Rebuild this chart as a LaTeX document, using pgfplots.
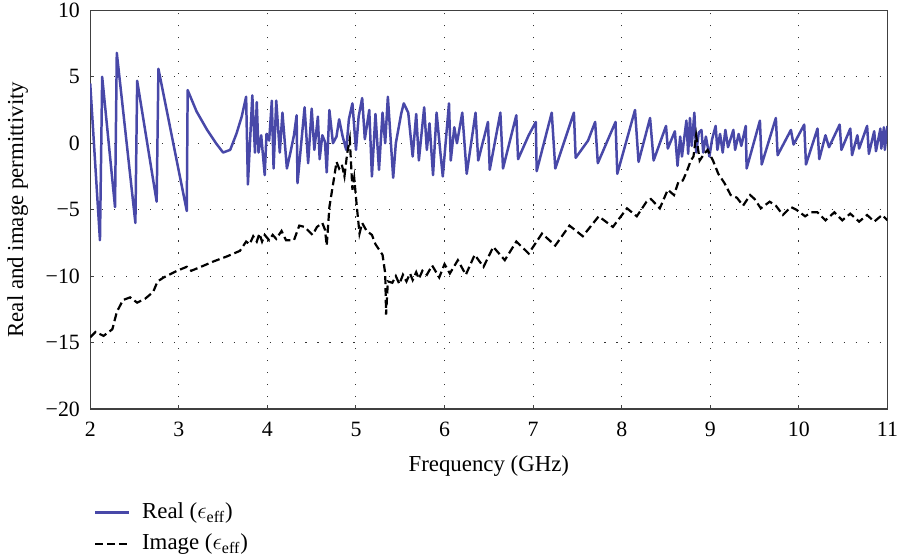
\documentclass[border=0pt]{standalone}
\usepackage{fontspec}
\setmainfont{Liberation Serif}
\usepackage{amsmath}
\usepackage{pgfplots}
\pgfplotsset{compat=1.18}
\definecolor{realblue}{HTML}{4848A8}

\begin{document}
\fontsize{11}{13}\selectfont
\begin{tikzpicture}
\begin{axis}[
  scale only axis,
  width=400bp, height=200bp,
  xmin=2, xmax=11, ymin=-20, ymax=10,
  xtick={2,3,...,11},
  ytick={-20,-15,-10,-5,0,5,10},
  yticklabels={−20,−15,−10,−5,0,5,10},
  xticklabels={2,3,4,5,6,7,8,9,10,11},
  tick label style={font=\fontsize{11}{13}\selectfont},
  label style={font=\fontsize{11.5}{13}\selectfont},
  yticklabel style={inner xsep=0pt, inner ysep=1.5bp, xshift=-5bp},
  xticklabel style={inner sep=0pt, yshift=-6.5bp},
  xlabel={Frequency (GHz)},
  ylabel={Real and image permittivity},
  xlabel style={yshift=-5.5bp},
  ylabel shift=5bp,
  grid=major,
  major grid style={black!80, line width=0.5bp, dash pattern=on 0.6bp off 5.4bp},
  axis line style={black!75, line width=0.7bp},
  tick align=inside,
  major tick length=2bp,
  xtick pos=bottom, ytick pos=left,
  tick style={black!75, line width=0.5bp},
  legend style={at={(0.004,-0.225)}, anchor=north west, draw=none, fill=none,
    inner sep=0pt, font=\fontsize{11.5}{13}\selectfont, row sep=2bp, column sep=4bp},
  legend cell align=left,
]
\addplot[realblue, line width=1.25bp, line join=round] coordinates {
(2.00,4.5) (2.11,-7.3) (2.135,5.0) (2.28,-4.8) (2.30,6.8) (2.51,-6.0) (2.53,4.7)
(2.75,-4.4) (2.77,5.6) (3.09,-5.1) (3.10,4.0) (3.20,2.4) (3.32,1.0) (3.42,0.0)
(3.50,-0.7) (3.58,-0.5) (3.65,0.7) (3.71,2.0) (3.76,3.5) (3.78,-3.1) (3.83,3.6)
(3.86,-0.7) (3.88,3.1) (3.90,-0.7) (3.93,0.6) (3.97,-2.4) (3.99,0.7) (4.02,0.2)
(4.05,3.2) (4.07,-1.9) (4.10,3.2) (4.14,-0.7) (4.17,2.3) (4.22,-1.9) (4.26,-0.7)
(4.30,0.6) (4.33,2.1) (4.34,-3.0) (4.42,2.7) (4.46,-1.5) (4.50,2.6) (4.53,-0.5)
(4.57,2.0) (4.59,-1.2) (4.62,0.6) (4.65,0.1) (4.67,-2.2) (4.70,2.5) (4.74,0.0)
(4.78,0.5) (4.81,1.8) (4.85,0.5) (4.89,-0.5) (4.92,1.8) (4.96,3.0) (5.00,-0.5)
(5.03,2.0) (5.07,3.4) (5.10,0.3) (5.15,2.5) (5.18,-2.5) (5.22,2.2) (5.26,-2.0)
(5.30,2.3) (5.33,0.0) (5.36,3.5) (5.42,-2.6) (5.45,0.0) (5.51,2.2) (5.54,3.0)
(5.59,2.3) (5.64,-1.0) (5.68,2.2) (5.71,-1.3) (5.77,2.7) (5.80,-0.5) (5.83,1.5)
(5.87,-2.4) (5.91,2.3) (5.95,-0.5) (5.98,-2.5) (6.05,3.0) (6.07,-1.3) (6.11,1.2)
(6.14,0.0) (6.20,2.3) (6.25,-2.3) (6.35,2.3) (6.38,-1.3) (6.49,1.6) (6.51,-2.0)
(6.63,2.3) (6.66,-1.9) (6.81,2.1) (6.83,-1.2) (6.95,0.6) (7.03,1.6) (7.04,-2.1)
(7.21,2.3) (7.25,-1.9) (7.46,2.3) (7.48,-1.1) (7.62,0.2) (7.70,1.6) (7.73,-1.5)
(7.93,1.6) (7.95,-2.3) (8.15,2.5) (8.19,-1.4) (8.32,1.9) (8.36,-1.3) (8.43,0.0)
(8.50,1.3) (8.52,-0.4) (8.60,0.9) (8.63,-1.7) (8.66,0.5) (8.68,-1.0) (8.73,1.7)
(8.75,-0.8) (8.77,1.9) (8.79,-0.2) (8.82,2.3) (8.84,-0.7) (8.87,0.8) (8.90,1.0)
(8.92,-0.7) (8.95,0.5) (8.99,-1.0) (9.02,0.3) (9.06,1.3) (9.08,-0.5) (9.11,0.7)
(9.14,-0.7) (9.17,1.0) (9.20,-0.3) (9.26,1.0) (9.28,-0.5) (9.32,0.7) (9.35,-0.2)
(9.40,1.3) (9.41,-1.9) (9.56,1.7) (9.58,-1.6) (9.74,1.9) (9.76,-0.9) (9.91,1.0)
(9.94,-0.1) (10.06,1.4) (10.08,-1.6) (10.21,1.1) (10.23,-1.2) (10.30,0.6) (10.34,-0.3)
(10.46,1.4) (10.48,-0.5) (10.58,1.1) (10.60,-0.9) (10.66,0.6) (10.68,-0.4) (10.77,1.3)
(10.79,-0.8) (10.85,0.9) (10.87,-0.6) (10.92,1.1) (10.93,-0.4) (10.96,1.2) (10.97,-0.5)
(11.00,1.3)
};
\addlegendentry{Real ($\epsilon_{\text{eff}}$)}
\addplot[black, line width=1.1bp, dash pattern=on 4bp off 2bp] coordinates {
(2.00,-14.6) (2.06,-14.2) (2.15,-14.5) (2.25,-14.0) (2.30,-12.7) (2.37,-11.8)
(2.45,-11.6) (2.53,-12.0) (2.62,-11.7) (2.71,-11.2) (2.76,-10.4) (2.83,-10.1)
(2.98,-9.6) (3.09,-9.3) (3.14,-9.6) (3.25,-9.3) (3.39,-8.9) (3.55,-8.5) (3.69,-8.1)
(3.76,-7.4) (3.80,-7.6) (3.84,-7.0) (3.88,-7.4) (3.91,-6.8) (3.94,-7.4) (3.97,-6.9)
(4.02,-7.3) (4.06,-6.9) (4.10,-7.2) (4.16,-6.6) (4.21,-7.3) (4.30,-7.3) (4.36,-6.2)
(4.42,-6.3) (4.51,-6.9) (4.56,-6.3) (4.62,-6.0) (4.65,-6.5) (4.67,-7.7) (4.70,-4.8)
(4.76,-2.3) (4.78,-1.4) (4.81,-1.9) (4.84,-1.6) (4.87,-2.5) (4.90,-0.8) (4.93,0.3)
(4.96,-3.5) (4.98,-2.6) (5.01,-4.8) (5.04,-6.8) (5.07,-6.0) (5.12,-6.6) (5.18,-6.9)
(5.22,-7.6) (5.30,-8.4) (5.33,-9.8) (5.34,-12.9) (5.36,-10.4) (5.41,-10.5)
(5.45,-10.0) (5.49,-10.6) (5.53,-9.9) (5.57,-10.4) (5.61,-9.8) (5.64,-10.3)
(5.68,-9.7) (5.71,-10.2) (5.75,-9.6) (5.80,-9.9) (5.86,-9.2) (5.94,-10.1)
(6.00,-9.1) (6.06,-9.8) (6.15,-8.8) (6.24,-9.9) (6.34,-8.4) (6.44,-9.3) (6.55,-7.8)
(6.68,-8.8) (6.81,-7.4) (6.95,-8.3) (7.10,-6.8) (7.25,-7.7) (7.41,-6.2) (7.56,-7.0)
(7.74,-5.5) (7.90,-6.3) (8.06,-4.9) (8.17,-5.5) (8.28,-4.4) (8.33,-4.2) (8.43,-4.9)
(8.52,-3.5) (8.59,-3.9) (8.64,-2.9) (8.69,-2.8) (8.73,-2.2) (8.78,-1.3) (8.81,-1.0)
(8.84,0.6) (8.88,-1.3) (8.93,-0.8) (8.97,-0.5) (9.03,-1.3) (9.09,-2.3) (9.16,-3.0)
(9.23,-3.9) (9.30,-4.1) (9.37,-4.7) (9.45,-3.9) (9.50,-4.2) (9.57,-4.9) (9.67,-4.4)
(9.74,-4.7) (9.82,-5.4) (9.91,-4.8) (9.97,-5.0) (10.07,-5.5) (10.14,-5.2)
(10.21,-5.2) (10.30,-5.8) (10.40,-5.2) (10.49,-5.8) (10.58,-5.3) (10.68,-5.9)
(10.77,-5.4) (10.85,-5.9) (10.94,-5.4) (11.00,-5.8)
};
\addlegendentry{Image ($\epsilon_{\text{eff}}$)}
\end{axis}
\end{tikzpicture}
\end{document}
